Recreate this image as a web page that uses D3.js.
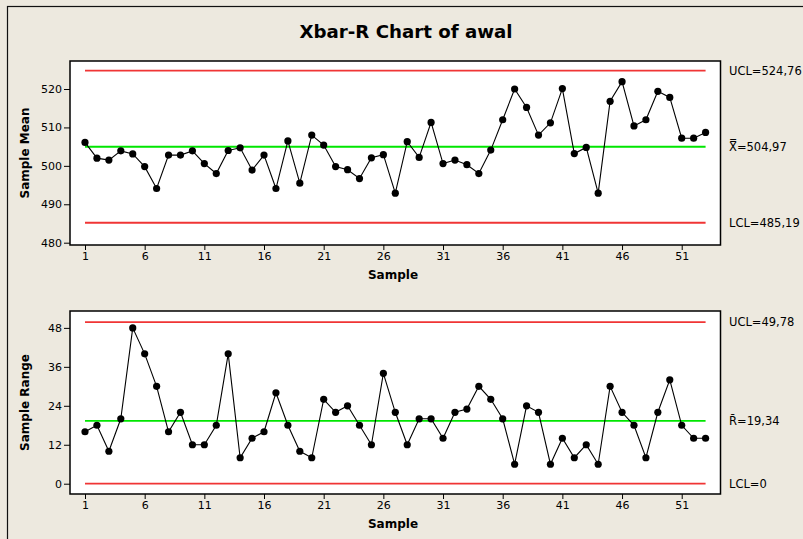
<!DOCTYPE html>
<html><head><meta charset="utf-8">
<script src="https://cdn.jsdelivr.net/npm/d3@7"></script>
<style>
html,body{margin:0;padding:0;background:#EDE9DF;}
svg{display:block;}
text{font-family:"DejaVu Sans",sans-serif;fill:#000;}
</style></head>
<body>
<svg id="chart" width="803" height="539"></svg>
<script>
const title = "Xbar-R Chart of awal";
const samples = d3.range(1, 54);
const xTicks = [1, 6, 11, 16, 21, 26, 31, 36, 41, 46, 51];
const meanTicks = [480, 490, 500, 510, 520];
const rangeTicks = [0, 12, 24, 36, 48];
const sampleMeans = [
  506.1, 502.0, 501.5, 503.9, 503.1, 499.8, 494.1, 502.8, 502.8, 503.9,
  500.6, 498.0, 504.0, 504.7, 498.9, 502.8, 494.1, 506.5, 495.5, 508.0,
  505.4, 499.8, 499.0, 496.7, 502.1, 502.9, 492.9, 506.3, 502.2, 511.3,
  500.6, 501.5, 500.3, 498.0, 504.1, 512.0, 520.0, 515.2, 508.0, 511.2,
  520.1, 503.2, 504.8, 492.9, 516.8, 521.9, 510.4, 512.0, 519.4, 517.8,
  507.2, 507.2, 508.7
];
const sampleRanges = [
  16, 18, 10, 20, 48, 40, 30, 16, 22, 12,
  12, 18, 40, 8, 14, 16, 28, 18, 10, 8,
  26, 22, 24, 18, 12, 34, 22, 12, 20, 20,
  14, 22, 23, 30, 26, 20, 6, 24, 22, 6,
  14, 8, 12, 6, 30, 22, 18, 8, 22, 32,
  18, 14, 14
];
const meanLimits = {ucl: 524.76, center: 504.97, lcl: 485.19};
const rangeLimits = {ucl: 49.78, center: 19.34, lcl: 0};
const meanLabels = ["UCL=524,76", "X\u033F=504,97", "LCL=485,19"];
const rangeLabels = ["UCL=49,78", "R\u0304=19,34", "LCL=0"];

const svg = d3.select("#chart");
svg.append("rect").attr("x", 7.5).attr("y", 6.5).attr("width", 820).attr("height", 560)
  .attr("fill", "#EDE9DF").attr("stroke", "#111").attr("stroke-width", 1.2);

svg.append("text").attr("x", 406).attr("y", 37.5).attr("text-anchor", "middle")
  .attr("font-size", "18.2px").attr("font-weight", "bold").text(title);

const left = 70, right = 720.5;
const x = d3.scaleLinear().domain([-0.257, 54.25]).range([left, right]);

function panel(top, bottom, yDomain, ticks, values, lim, labels, ylabel) {
  const y = d3.scaleLinear().domain(yDomain).range([bottom, top]);
  const g = svg.append("g");
  g.append("rect").attr("x", left).attr("y", top).attr("width", right - left).attr("height", bottom - top)
    .attr("fill", "#fff");
  const limLines = [[lim.ucl, "#F03535"], [lim.center, "#00E600"], [lim.lcl, "#F03535"]];
  limLines.forEach(([v, c]) => {
    g.append("line").attr("x1", x(1)).attr("x2", x(53)).attr("y1", y(v)).attr("y2", y(v))
      .attr("stroke", c).attr("stroke-width", 1.8);
  });
  const line = d3.line().x((d, i) => x(samples[i])).y(d => y(d));
  g.append("path").datum(values).attr("d", line).attr("fill", "none").attr("stroke", "#000").attr("stroke-width", 1.1);
  g.selectAll("circle").data(values).join("circle")
    .attr("cx", (d, i) => x(samples[i])).attr("cy", d => y(d)).attr("r", 3.6).attr("fill", "#000");
  g.append("rect").attr("x", left).attr("y", top).attr("width", right - left).attr("height", bottom - top)
    .attr("fill", "none").attr("stroke", "#000").attr("stroke-width", 1.5);

  const xa = g.append("g").attr("transform", `translate(0,${bottom})`)
    .call(d3.axisBottom(x).tickValues(xTicks).tickSize(5).tickPadding(2).tickFormat(d3.format("d")));
  xa.select(".domain").remove();
  xa.selectAll("line").attr("stroke", "#000");
  xa.selectAll("text").attr("font-size", "11px").attr("font-family", "DejaVu Sans");

  const ya = g.append("g").attr("transform", `translate(${left},0)`)
    .call(d3.axisLeft(y).tickValues(ticks).tickSize(6).tickPadding(2).tickFormat(d3.format("d")));
  ya.select(".domain").remove();
  ya.selectAll("line").attr("stroke", "#000");
  ya.selectAll("text").attr("font-size", "11px").attr("font-family", "DejaVu Sans");

  g.append("text").attr("x", 393).attr("y", bottom + 34).attr("text-anchor", "middle")
    .attr("font-size", "12px").attr("font-weight", "bold").text("Sample");
  g.append("text").attr("transform", `translate(29,${(top + bottom) / 2}) rotate(-90)`)
    .attr("text-anchor", "middle").attr("font-size", "12px").attr("font-weight", "bold").text(ylabel);

  [lim.ucl, lim.center, lim.lcl].forEach((v, i) => {
    g.append("text").attr("x", 729).attr("y", y(v)).attr("dy", "0.36em")
      .attr("font-size", "11.5px").text(labels[i]);
  });
}

panel(61, 245, [479.40, 527.29], meanTicks, sampleMeans, meanLimits, meanLabels, "Sample Mean");
panel(311, 494, [-3.17, 53.2], rangeTicks, sampleRanges, rangeLimits, rangeLabels, "Sample Range");
</script>
</body></html>
